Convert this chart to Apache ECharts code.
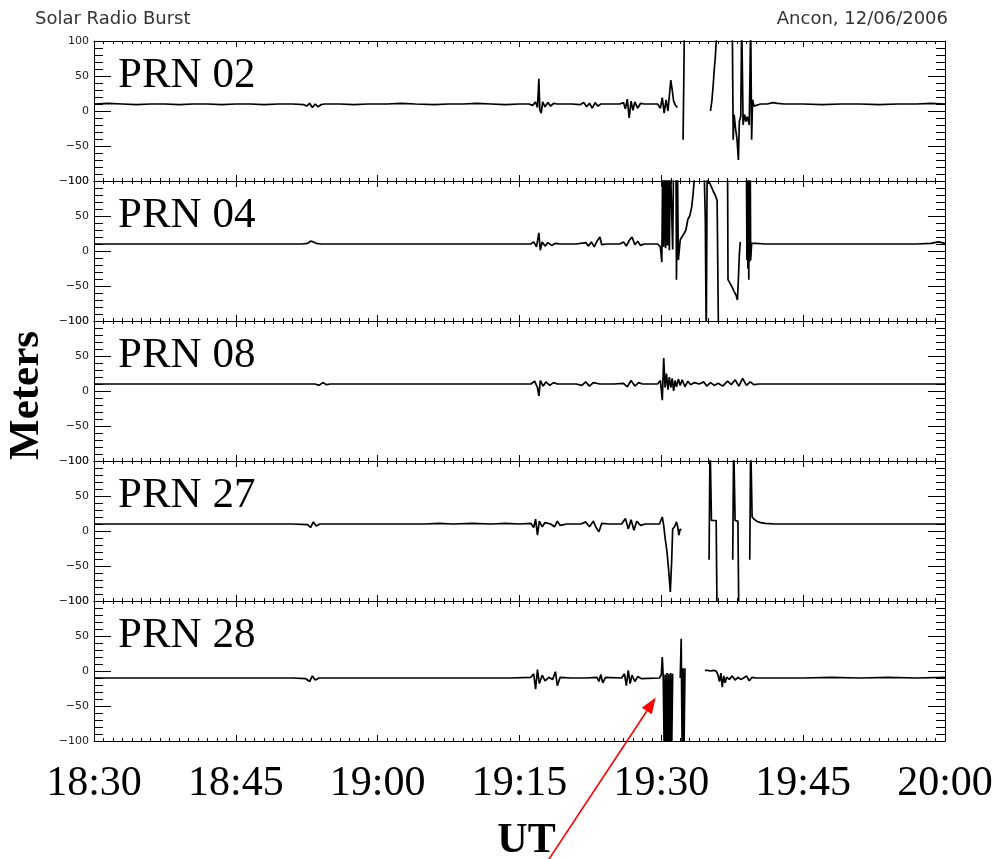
<!DOCTYPE html>
<html>
<head>
<meta charset="utf-8">
<title>Solar Radio Burst – Ancon</title>
<script src="https://cdn.jsdelivr.net/npm/echarts@6/dist/echarts.min.js"></script>
<style>
  html, body { margin: 0; padding: 0; background: #fff; }
  #main { width: 1001px; height: 859px; }
</style>
</head>
<body>
<div id="main"></div>
<script>
// Time axis: minutes after 18:30 UT, labelled every 15 minutes
const tickLabels = ['18:30', '18:45', '19:00', '19:15', '19:30', '19:45', '20:00'];
const satellites = ['PRN 02', 'PRN 04', 'PRN 08', 'PRN 27', 'PRN 28'];

// Range error per satellite: [minutes after 18:30 UT, meters]; null marks a data gap
const prn02 = [
  [0,10],[1.5,11],[3,10],[4.5,9],[6,10],[7.5,10],[9,9],[10.5,10],[12,10],[13.5,9],[15,10],[16.5,10],
  [18,9],[19.5,10],[21,10],[22.2,9],[22.5,7],[22.8,11],[23.1,5],[23.4,10],[23.7,6],[24.0,9],[24.4,10],
  [26,10],[27.5,9],[29,10],[31,10],[32.5,11],[34,10],[36,9],[37.5,10],[39,10],[40.5,11],[42,10],
  [43.5,9],[45,10],[46.0,10],[46.4,8],[46.7,13],[46.9,5],[47.05,46],[47.15,2],[47.3,-3],[47.45,13],
  [47.7,6],[48.0,12],[48.3,7],[48.6,11],[49.0,10],[50.5,10],[51.4,9],[51.8,12],[52.1,6],[52.4,11],
  [52.7,4],[53.0,12],[53.3,7],[53.6,10],[54.5,10],[55.6,10],[56.0,12],[56.2,3],[56.4,17],[56.6,-10],
  [56.8,14],[57.0,1],[57.2,13],[57.5,4],[57.8,11],[58.2,10],[59.6,10],[59.9,4],[60.1,19],[60.3,-3],
  [60.5,16],[60.7,0],[60.85,22],[61.0,44],[61.15,30],[61.3,14],[61.5,8],[61.7,5],[61.8,null],
  [62.3,-41],[62.45,130],[62.6,null],
  [65.2,0],[65.35,15],[65.5,40],[65.6,60],[65.7,75],[65.85,110],[66.0,null],
  [67.5,130],[67.6,-41],[67.7,-5],[67.85,-25],[68.0,-40],[68.15,-70],[68.25,-15],[68.4,-8],[68.5,130],
  [68.6,130],[68.65,-20],[68.8,-5],[68.95,-15],[69.1,-8],[69.3,-20],[69.45,130],[69.55,-41],[69.65,16],
  [69.8,7],[70.0,8],[70.5,10],[71.2,10],[71.8,12],[72.3,11],[73,10],[75,10],[77,9],[79,10],[81,10],
  [83,9],[85,10],[87,10],[88.5,11],[90,10]
];

const prn04 = [
  [0,10],[2,10],[4,10],[6,10],[8,10],[10,10],[12,10],[14,10],[16,10],[18,10],[20,10],[22,10],
  [22.6,11],[22.9,14],[23.2,13],[23.5,11],[24,10],[26,10],[28,10],[30,10],[32,10],[34,10],[36,10],
  [38,10],[40,10],[42,10],[44,10],[46.2,10],[46.5,13],[46.8,6],[47.05,26],[47.2,1],[47.4,13],[47.7,7],
  [48.0,12],[48.4,8],[48.8,11],[49.3,10],[51,10],[52.0,12],[52.3,7],[52.6,13],[52.9,6],[53.2,14],
  [53.5,20],[53.7,9],[54.2,10],[55.6,10],[56.0,13],[56.3,7],[56.6,15],[56.9,20],[57.2,9],[57.5,14],
  [57.8,8],[58.2,10],[59.6,10],[59.9,6],[60.05,-16],[60.15,130],[60.25,6],[60.35,130],[60.45,4],
  [60.55,130],[60.65,8],[60.75,130],[60.85,1],[60.95,130],[61.15,130],[61.2,2],[61.3,130],[61.55,130],
  [61.6,-41],[61.7,130],[61.8,-13],[61.9,-13],[62.0,16],[62.2,18],[62.4,25],[62.6,30],[62.8,45],
  [63.0,50],[63.2,62],[63.35,80],[63.5,105],[64.5,130],[64.65,47],[64.75,-130],[64.85,130],[64.95,100],
  [65.15,96],[65.35,90],[65.5,85],[65.7,80],[65.9,72],[66.0,70],[66.05,-130],[66.2,null],
  [67.0,130],[67.05,-41],[67.3,-47],[67.5,-52],[67.7,-58],[67.9,-63],[68.05,-70],[68.15,-40],
  [68.25,-5],[68.35,13],[68.5,null],
  [69.0,130],[69.05,-13],[69.1,130],[69.15,-25],[69.2,130],[69.25,-41],[69.3,130],[69.35,-15],
  [69.4,130],[69.45,-13],[69.55,11],[70,11],[71,10],[73,10],[75,10],[77,10],[79,10],[81,10],[83,10],
  [85,10],[87,10],[88.5,11],[89.3,13],[90,11]
];

const prn08 = [
  [0,10],[3,10],[6,10],[9,10],[12,10],[15,10],[18,10],[21,10],[23.4,10],[23.8,8],[24.2,12],[24.6,9],
  [25,10],[28,10],[31,10],[34,10],[37,10],[40,10],[43,10],[46.2,10],[46.6,14],[46.9,5],[47.05,-7],
  [47.2,15],[47.5,7],[47.8,13],[48.2,8],[48.6,12],[49.0,10],[51,10],[51.6,8],[52.0,13],[52.4,7],
  [52.8,12],[53.5,10],[55,10],[56.0,11],[56.4,6],[56.8,15],[57.2,7],[57.6,12],[58.0,10],[59.6,10],
  [59.9,15],[60.1,-13],[60.25,47],[60.4,5],[60.55,25],[60.7,2],[60.85,20],[61.0,5],[61.15,18],
  [61.3,0],[61.45,15],[61.6,6],[61.8,17],[62.0,8],[62.2,16],[62.5,6],[62.8,14],[63.1,9],[63.5,12],
  [64,10],[64.5,13],[64.8,7],[65.2,12],[65.6,8],[66,11],[66.5,7],[67,14],[67.4,9],[67.8,16],[68.2,7],
  [68.6,18],[69,8],[69.4,13],[69.8,9],[70.3,10],[72,10],[75,10],[78,10],[81,10],[84,10],[87,10],[90,10]
];

const prn27 = [
  [0,10],[3,10],[6,10],[9,10],[12,10],[15,10],[18,10],[21,10],[22.6,9],[22.9,5],[23.2,13],[23.5,7],
  [23.9,10],[26,10],[29,10],[32,10],[35,10],[36.5,11],[38,10],[40,11],[42,10],[43.5,11],[45,10],
  [46.2,11],[46.5,5],[46.7,17],[46.9,-6],[47.1,14],[47.4,6],[47.7,12],[48.3,10],[48.7,6],[49.0,14],
  [49.3,8],[50,10],[51.5,10],[52,13],[52.4,6],[52.8,14],[53.1,5],[53.4,-1],[53.7,11],[54.5,10],
  [55.8,10],[56.2,18],[56.5,3],[56.8,16],[57.1,1],[57.4,14],[57.8,8],[58.3,10],[59.8,10],[60.1,20],
  [60.25,8],[60.4,-10],[60.6,-30],[60.8,-60],[60.95,-87],[61.1,-40],[61.2,3],[61.4,6],[61.6,13],
  [61.75,5],[61.85,-6],[62.0,3],[62.1,1],[62.3,null],
  [65.05,-41],[65.15,130],[65.3,15],[65.8,15],[65.9,-130],[66.1,null],
  [67.55,-41],[67.65,130],[67.8,15],[68.1,14],[68.2,-130],[68.4,null],
  [69.35,-41],[69.45,130],[69.6,20],[69.8,17],[70.1,14],[70.5,12],[71,11],[72,10],[75,10],[78,10],
  [81,10],[84,10],[87,10],[90,10]
];

const prn28 = [
  [0,-10],[3,-10],[6,-10],[9,-10],[12,-10],[15,-10],[18,-10],[21,-10],[22.4,-11],[22.8,-15],[23.1,-7],
  [23.4,-13],[23.8,-10],[26,-10],[29,-10],[32,-10],[35,-10],[38,-10],[41,-10],[44,-10],[46.2,-9],
  [46.5,-4],[46.7,-26],[46.9,2],[47.1,-18],[47.4,-6],[47.7,-14],[48.1,-9],[48.5,-12],[48.8,-1],
  [49.0,-21],[49.3,-9],[50.5,-10],[52,-10],[53.2,-9],[53.4,-15],[53.6,-5],[53.8,-17],[54.1,-9],
  [55.8,-10],[56.1,-4],[56.3,-21],[56.5,1],[56.7,-18],[56.9,-6],[57.2,-15],[57.5,-8],[57.9,-11],
  [59.8,-10],[60.0,-5],[60.1,20],[60.2,-8],[60.3,-110],[60.4,-5],[60.5,-110],[60.6,-3],[60.7,-110],
  [60.8,-4],[60.9,-110],[61.0,-3],[61.1,-110],[61.2,-4],[61.3,null],
  [62.0,-10],[62.1,46],[62.2,-110],[62.3,4],[62.4,-110],[62.5,4],[62.6,null],
  [64.6,1],[64.9,1],[65.2,0],[65.5,1],[65.8,0],[66.0,-6],[66.15,-15],[66.3,-3],[66.45,-23],[66.6,-7],
  [66.75,-17],[66.9,-9],[67.2,-12],[67.5,-7],[67.8,-13],[68.1,-9],[68.4,-12],[68.7,-10],[69.0,-7],
  [69.3,-14],[69.6,-9],[70,-10],[72,-10],[75,-10],[78,-9],[81,-10],[84,-9],[87,-10],[90,-9]
];

// Point on the PRN 28 trace that the annotation arrow indicates
const arrowTarget = [59.4, -38];

const tracks = [prn02, prn04, prn08, prn27, prn28];

const PANEL_TOP = 41;
const PANEL_H = 140;
const serif = '"Liberation Serif", "Times New Roman", serif';
const sans = '"DejaVu Sans", sans-serif';
const fmtY = v => (v < 0 ? '\u2212' + Math.abs(v) : String(v));

const grids = [], xAxes = [], yAxes = [], series = [], labels = [];

satellites.forEach((name, i) => {
  const top = PANEL_TOP + PANEL_H * i;
  const isLast = i === satellites.length - 1;
  grids.push({ left: 94, right: 56, top: top, height: PANEL_H, outerBoundsMode: 'none', containLabel: false });

  const xBase = {
    type: 'value', gridIndex: i, min: 0, max: 90, interval: 15,
    axisLine: { show: true, onZero: false, lineStyle: { color: '#000', width: 1 } },
    axisTick: { show: true, inside: true, length: 6, lineStyle: { color: '#000', width: 1 } },
    minorTick: { show: true, splitNumber: 15, length: 3, lineStyle: { color: '#000', width: 1 } },
    splitLine: { show: false }, minorSplitLine: { show: false }
  };
  xAxes.push(Object.assign({}, xBase, {
    position: 'bottom',
    axisLabel: {
      show: isLast, margin: 22, fontFamily: serif, fontSize: 42, color: '#000',
      formatter: v => tickLabels[Math.round(v / 15)]
    },
    name: isLast ? 'UT' : '', nameLocation: 'middle', nameGap: 79, nameMoveOverlap: false,
    nameTextStyle: { fontFamily: serif, fontWeight: 'bold', fontSize: 42, color: '#000', padding: [0, 0, 0, 14] }
  }));
  xAxes.push(Object.assign({}, xBase, { position: 'top', axisLabel: { show: false } }));

  const yBase = {
    type: 'value', gridIndex: i, min: -100, max: 100, interval: 50,
    axisLine: { show: true, onZero: false, lineStyle: { color: '#000', width: 1 } },
    axisTick: { show: true, inside: true, length: 17, lineStyle: { color: '#000', width: 1 } },
    minorTick: { show: true, splitNumber: 5, length: 9, lineStyle: { color: '#000', width: 1 } },
    splitLine: { show: false }, minorSplitLine: { show: false }
  };
  yAxes.push(Object.assign({}, yBase, {
    position: 'left',
    axisLabel: {
      show: true, margin: 5, fontFamily: sans, fontSize: 11, color: '#222',
      showMinLabel: true, showMaxLabel: true, formatter: fmtY
    },
    name: i === 2 ? 'Meters' : '', nameLocation: 'middle', nameGap: 46, nameRotate: 90,
    nameMoveOverlap: false,
    nameTextStyle: { fontFamily: serif, fontWeight: 'bold', fontSize: 43, color: '#000', padding: [0, 9, 0, 0] }
  }));
  yAxes.push(Object.assign({}, yBase, { position: 'right', axisLabel: { show: false } }));

  series.push({
    name: name, type: 'line', xAxisIndex: 2 * i, yAxisIndex: 2 * i,
    data: tracks[i], showSymbol: false, symbol: 'none', connectNulls: false, clip: true,
    lineStyle: { color: '#000', width: 1.7 }, animation: false
  });

  labels.push({
    id: 'label-' + i, type: 'text', x: 118, y: top + 35, z: 10,
    style: { text: name, fontFamily: serif, fontSize: 43, fill: '#000', verticalAlign: 'middle' }
  });
});

const chart = echarts.init(document.getElementById('main'), null, { renderer: 'canvas' });
chart.setOption({
  backgroundColor: '#fff',
  animation: false,
  title: [
    { text: 'Solar Radio Burst', left: 35, top: 10, padding: 0,
      textStyle: { fontFamily: sans, fontSize: 18, fontWeight: 'normal', color: '#333' } },
    { text: 'Ancon, 12/06/2006', right: 53, top: 10, padding: 0,
      textStyle: { fontFamily: sans, fontSize: 18, fontWeight: 'normal', color: '#333' } }
  ],
  grid: grids,
  xAxis: xAxes,
  yAxis: yAxes,
  series: series,
  graphic: labels
});

// Red annotation arrow pointing at the PRN 28 burst
const tip = chart.convertToPixel({ seriesIndex: 4 }, arrowTarget);
const tail = [tip[0] - 107, tip[1] + 162];
const len = Math.hypot(tip[0] - tail[0], tip[1] - tail[1]);
const ux = (tip[0] - tail[0]) / len, uy = (tip[1] - tail[1]) / len;
const headLen = 16, headHalf = 6;
const base = [tip[0] - ux * headLen, tip[1] - uy * headLen];
chart.setOption({
  graphic: [
    { id: 'arrow-shaft', type: 'line', z: 20,
      shape: { x1: tail[0], y1: tail[1], x2: base[0], y2: base[1] },
      style: { stroke: '#ff0000', lineWidth: 1.6 } },
    { id: 'arrow-head', type: 'polygon', z: 20,
      shape: { points: [tip, [base[0] - uy * headHalf, base[1] + ux * headHalf], [base[0] + uy * headHalf, base[1] - ux * headHalf]] },
      style: { fill: '#ff0000' } }
  ]
});
</script>
</body>
</html>
